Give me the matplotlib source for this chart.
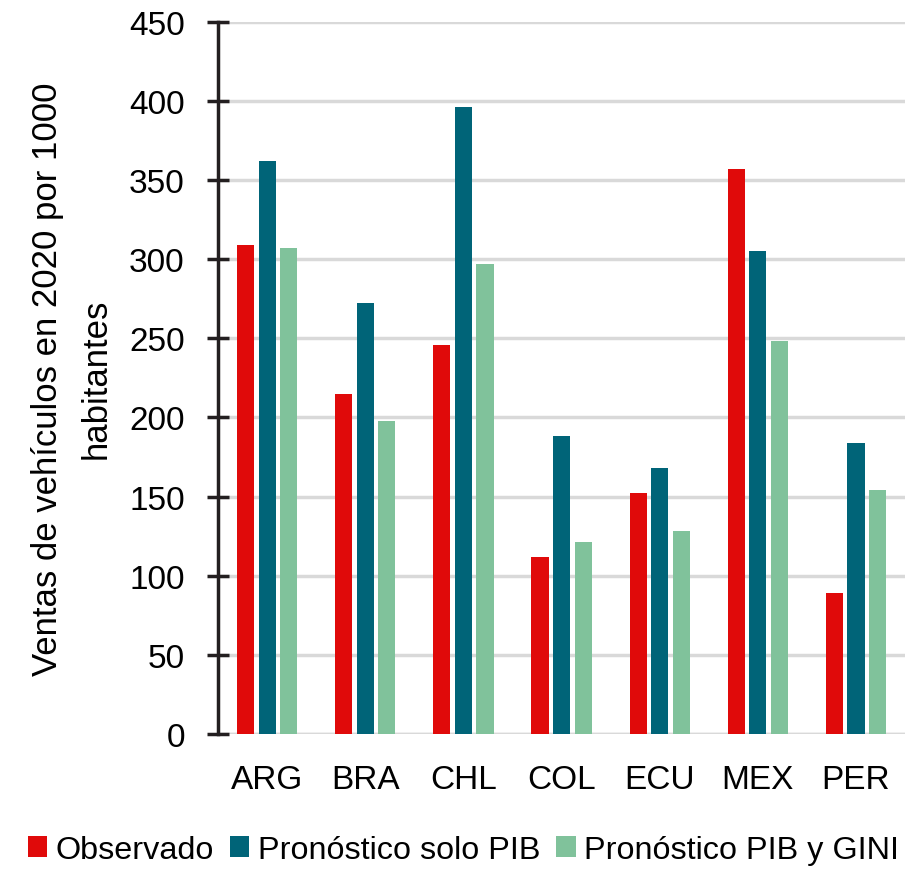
import numpy as np
import matplotlib.pyplot as plt

countries = ['ARG', 'BRA', 'CHL', 'COL', 'ECU', 'MEX', 'PER']
observado = [309, 215, 246, 112, 152, 357, 89]
solo_pib = [362, 272, 396, 188, 168, 305, 184]
pib_gini = [307, 198, 297, 121, 128, 248, 154]

plt.rcParams['font.family'] = ['Liberation Sans', 'DejaVu Sans']

fig = plt.figure(figsize=(9.05, 8.79), dpi=100)
ax = fig.add_axes([0.241, 0.164, 0.759, 0.810])

x = np.arange(len(countries))
w = 0.175
step = 0.22
ax.bar(x - step, observado, w, color='#E00A0A', label='Observado', zorder=3)
ax.bar(x, solo_pib, w, color='#006478', label='Pronóstico solo PIB', zorder=3)
ax.bar(x + step, pib_gini, w, color='#80C29B', label='Pronóstico PIB y GINI', zorder=3)

ax.set_xlim(-0.5, len(countries) - 0.5)
ax.set_ylim(0, 450)
ax.set_yticks(range(0, 451, 50))
ax.set_xticks(x)
ax.set_xticklabels(countries)
ax.yaxis.grid(True, color='#D9D9D9', linewidth=2.5, zorder=0)
for s in ['top', 'right', 'bottom']:
    ax.spines[s].set_visible(False)
ax.spines['left'].set_color('#231F20')
ax.spines['left'].set_linewidth(2.5)
ax.tick_params(axis='y', direction='inout', length=16, width=2.5, color='#231F20',
               labelsize=24, pad=16)
ax.tick_params(axis='x', length=0, labelsize=24, pad=22)
ax.axhline(0, color='#D9D9D9', linewidth=2.5, zorder=1)

ax.set_ylabel('Ventas de vehículos en 2020 por 1000\nhabitantes', fontsize=25,
              linespacing=1.6, labelpad=12)

fig.legend(loc='lower center', bbox_to_anchor=(0.512, -0.018), ncol=3, frameon=False,
           fontsize=23.3, handlelength=0.6, handleheight=0.6, handletextpad=0.25,
           columnspacing=0.5)

fig.savefig('out.png', dpi=100)
